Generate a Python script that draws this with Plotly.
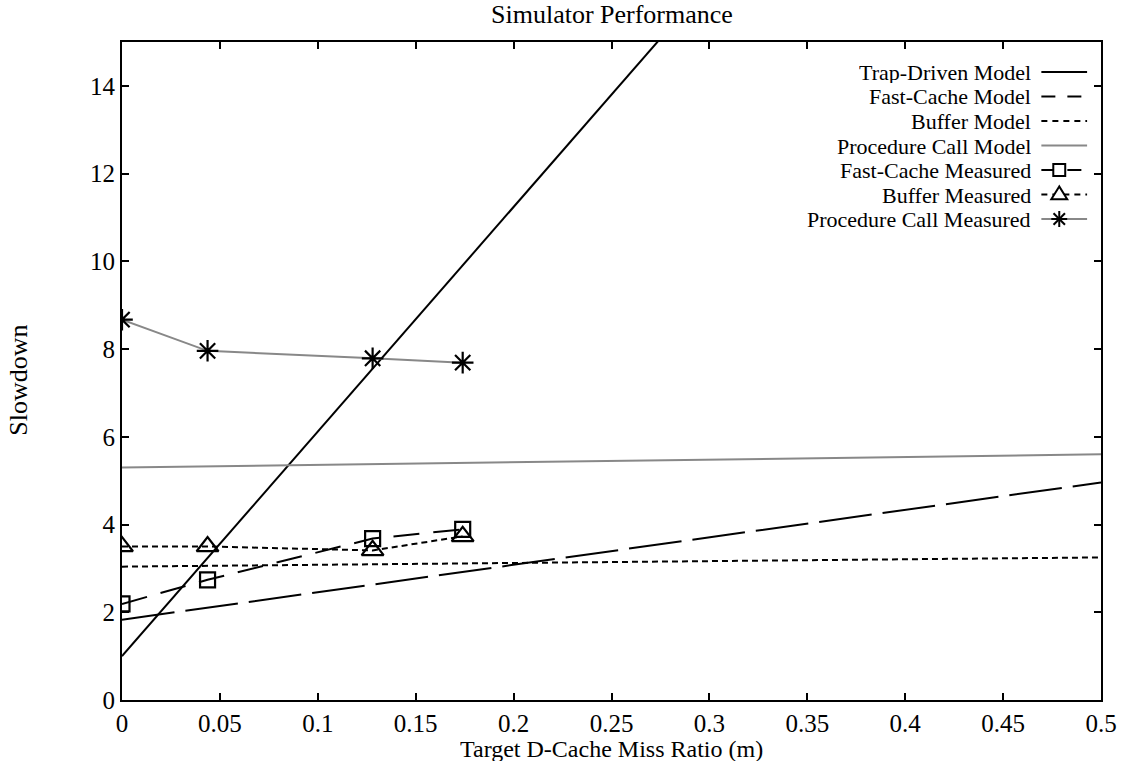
import plotly.graph_objects as go

# ---------------- data ----------------
model_x = [0.0, 0.5]
trap_model = [1.0, 26.6]
fast_cache_model = [1.83, 4.96]
buffer_model = [3.04, 3.25]
proc_call_model = [5.30, 5.60]

meas_x = [0.0, 0.0437, 0.128, 0.174]
fast_cache_meas = [2.19, 2.74, 3.68, 3.89]
buffer_meas = [3.50, 3.50, 3.41, 3.73]
proc_call_meas = [8.67, 7.96, 7.79, 7.69]

legend_names = ["Trap-Driven Model", "Fast-Cache Model", "Buffer Model",
                "Procedure Call Model", "Fast-Cache Measured",
                "Buffer Measured", "Procedure Call Measured"]

FONT = "Liberation Serif, Times New Roman, serif"
FS = 26
GRAY = "#888888"

# plot area geometry (pixels)
W, H = 1129, 763
L, R, T, B = 122, 22, 42, 63
PW, PH = W - L - R, H - T - B

def px(xp):
    return (xp - L) / PW

def py(yp):
    return (H - B - yp) / PH

styles = [
    dict(color="black", dash="solid", ldash="solid", marker=None),
    dict(color="black", dash="53px,11px", ldash="14px,12px", marker=None),
    dict(color="black", dash="6px,4px", ldash="6px,5px", marker=None),
    dict(color=GRAY, dash="solid", ldash="solid", marker=None),
    dict(color="black", dash="26px,14px", ldash="14px,12px", marker="square"),
    dict(color="black", dash="6px,4px", ldash="6px,5px", marker="triangle"),
    dict(color=GRAY, dash="solid", ldash="solid", marker="asterisk"),
]

fig = go.Figure()

series = [
    (model_x, trap_model, None),
    (model_x, fast_cache_model, None),
    (model_x, buffer_model, None),
    (model_x, proc_call_model, None),
    (meas_x, fast_cache_meas, dict(symbol="square-open", size=15)),
    (meas_x, buffer_meas, dict(symbol="triangle-up-open", size=19)),
    (meas_x, proc_call_meas, dict(symbol="asterisk-open", size=18)),
]

for (xs, ys, mk), st, name in zip(series, styles, legend_names):
    kw = dict(x=xs, y=ys, name=name, showlegend=False,
              line=dict(color=st["color"], width=2, dash=st["dash"]))
    if mk:
        kw["mode"] = "lines+markers"
        kw["marker"] = dict(symbol=mk["symbol"], size=mk["size"], color="black",
                            line=dict(color="black", width=2.2))
    else:
        kw["mode"] = "lines"
    fig.add_trace(go.Scatter(**kw))

# ---------------- custom legend (text left of sample, like gnuplot) -------------
annotations = []
shapes = []
row0, step = 72, 24.5
text_right = 1038
s_x0, s_x1 = 1047, 1093
mk_x = 1065
for i, (name, st) in enumerate(zip(legend_names, styles)):
    yc = row0 + i * step
    annotations.append(dict(x=px(text_right), y=py(yc), xref="paper", yref="paper",
                            text=name, showarrow=False, xanchor="right", yanchor="middle",
                            height=22, valign="middle", borderpad=0,
                            font=dict(family=FONT, size=22, color="black")))
    shapes.append(dict(type="line", xref="paper", yref="paper",
                       x0=px(s_x0), x1=px(s_x1), y0=py(yc), y1=py(yc),
                       line=dict(color=st["color"], width=2, dash=st["ldash"])))
    m = st["marker"]
    if m == "square":
        h = 6
        shapes.append(dict(type="rect", xref="paper", yref="paper",
                           x0=px(mk_x - h), x1=px(mk_x + h), y0=py(yc + h), y1=py(yc - h),
                           fillcolor="white", line=dict(color="black", width=2)))
    elif m == "triangle":
        h = 8
        path = "M {} {} L {} {} L {} {} Z".format(
            px(mk_x), py(yc - h), px(mk_x - h), py(yc + h * 0.6),
            px(mk_x + h), py(yc + h * 0.6))
        shapes.append(dict(type="path", xref="paper", yref="paper", path=path,
                           fillcolor="white", line=dict(color="black", width=2)))
    elif m == "asterisk":
        h = 8
        d = h * 0.72
        for (dx, dy) in [(0, h), (h, 0), (d, d), (d, -d)]:
            shapes.append(dict(type="line", xref="paper", yref="paper",
                               x0=px(mk_x - dx), x1=px(mk_x + dx),
                               y0=py(yc - dy), y1=py(yc + dy),
                               line=dict(color="black", width=2)))

# titles
annotations.append(dict(x=px(615), y=py(15), xref="paper", yref="paper",
                        text="Simulator Performance", showarrow=False,
                        xanchor="center", yanchor="middle",
                        font=dict(family=FONT, size=FS, color="black")))
annotations.append(dict(x=px(615), y=py(749), xref="paper", yref="paper",
                        text="Target D-Cache Miss Ratio (m)", showarrow=False,
                        xanchor="center", yanchor="middle",
                        height=24, valign="middle", borderpad=0,
                        font=dict(family=FONT, size=24, color="black")))
annotations.append(dict(x=px(18), y=py(380), xref="paper", yref="paper",
                        text="Slowdown", showarrow=False, textangle=-90,
                        xanchor="center", yanchor="middle",
                        font=dict(family=FONT, size=FS, color="black")))

axis_common = dict(showgrid=False, zeroline=False, showline=True, linecolor="black",
                   linewidth=2, mirror="allticks", ticks="inside", ticklen=7,
                   tickwidth=2, tickcolor="black",
                   tickfont=dict(family=FONT, size=25, color="black"))

fig.update_layout(
    width=W, height=H,
    margin=dict(l=L, r=R, t=T, b=B, pad=0),
    paper_bgcolor="white", plot_bgcolor="white",
    showlegend=False,
    annotations=annotations, shapes=shapes,
    xaxis=dict(range=[0, 0.5], dtick=0.05, tick0=0, **axis_common),
    yaxis=dict(range=[0, 15], dtick=2, tick0=0, **axis_common),
)

fig.write_html("out.html",
               config={"displayModeBar": False},
               post_script="document.body.style.margin='0px';"
                           "document.body.style.overflow='hidden';")
